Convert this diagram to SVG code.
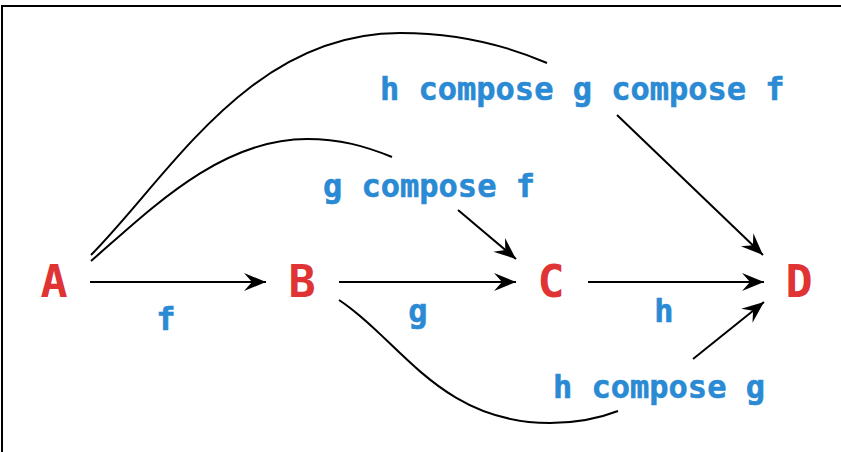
<svg xmlns="http://www.w3.org/2000/svg" width="841" height="452" viewBox="0 0 841 452">
<style>
.frame{fill:#fff;stroke:#000;stroke-width:2}
.node{font-family:"DejaVu Sans Mono","Liberation Mono",monospace;font-weight:bold;font-size:45px;fill:#E03333;text-anchor:middle}
.lbl{font-family:"DejaVu Sans Mono","Liberation Mono",monospace;font-weight:bold;font-size:32px;fill:#2A8AD3;stroke:#2A8AD3;stroke-width:0.6}
.mid{text-anchor:middle}
.edge{fill:none;stroke:#000;stroke-width:2}
</style>
<defs>
<marker id="arr" viewBox="-24 -10 26 20" refX="0" refY="0" markerWidth="26" markerHeight="20" markerUnits="userSpaceOnUse" orient="auto">
<path d="M0,0 L-22,-9 L-14,0 L-22,9 Z" fill="#000"/>
</marker>
</defs>
<rect class="frame" x="2" y="6" width="900" height="500"/>
<g id="connectors">
<g id="e-AB"><line class="edge" x1="90" y1="282" x2="266" y2="282" marker-end="url(#arr)"/><text class="lbl mid" x="166" y="330">f</text></g>
<g id="e-BC"><line class="edge" x1="339" y1="282" x2="516" y2="282" marker-end="url(#arr)"/><text class="lbl mid" x="418" y="322">g</text></g>
<g id="e-CD"><line class="edge" x1="588" y1="282" x2="764" y2="282" marker-end="url(#arr)"/><text class="lbl mid" x="664" y="322">h</text></g>
<g id="e-AC">
<path class="edge" d="M91,261 C150,210 220,139 307,139 C340,139 365,146 392,157"/>
<line class="edge" x1="458" y1="210" x2="516" y2="259" marker-end="url(#arr)"/>
<text class="lbl" x="323" y="197">g compose f</text>
</g>
<g id="e-AD">
<path class="edge" d="M91,255 C170,175 250,33 400,33 C460,33 510,47 547,63"/>
<line class="edge" x1="617" y1="115" x2="763" y2="255" marker-end="url(#arr)"/>
<text class="lbl" x="380" y="100">h compose g compose f</text>
</g>
<g id="e-BD">
<path class="edge" d="M339,300 C400,340 440,423 550,423 C580,423 600,418 618,411"/>
<line class="edge" x1="693" y1="359" x2="764" y2="302" marker-end="url(#arr)"/>
<text class="lbl" x="553" y="398">h compose g</text>
</g>
</g>
<g id="A"><text class="node" x="54" y="297">A</text></g>
<g id="B"><text class="node" x="302" y="297">B</text></g>
<g id="C"><text class="node" x="551" y="297">C</text></g>
<g id="D"><text class="node" x="799" y="297">D</text></g>
</svg>
